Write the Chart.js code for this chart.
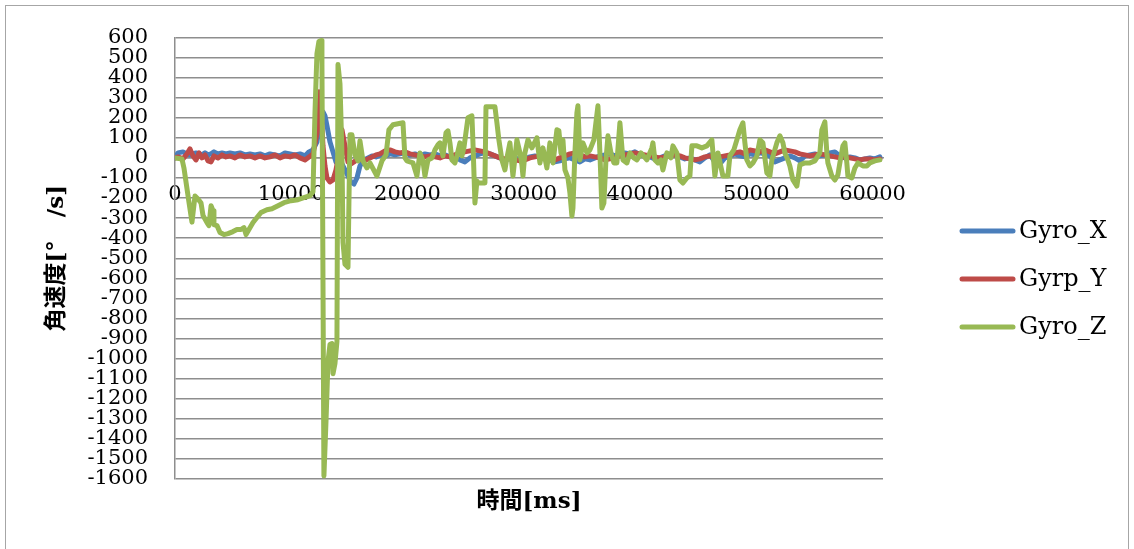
<!DOCTYPE html>
<html>
<head>
<meta charset="utf-8">
<script src="https://cdn.jsdelivr.net/npm/chart.js@4.4.1/dist/chart.umd.min.js"></script>
<style>
  html, body { margin: 0; padding: 0; background: #fff; overflow: hidden; }
  #wrap { position: relative; width: 1134px; height: 549px; }
  #frame { position: absolute; left: 5px; top: 5px; width: 1124px; height: 600px;
           border: 1.5px solid #a6a6a6; box-sizing: border-box; }
  canvas { position: absolute; left: 0; top: 0; }
</style>
</head>
<body>
<div id="wrap">
  <div id="frame"></div>
  <canvas id="c" width="1134" height="549"></canvas>
</div>
<script>
// Sample times [ms] shared by the X and Y gyro channels
const timeXY = [0,258,688,1032,1290,1548,1806,2064,2322,2580,2838,3096,3354,3698,4042,4386,4730,5160,5590,6020,
  6450,6880,7310,7740,8170,8600,9030,9460,9890,10320,10750,11180,11524,11868,12212,12384,12556,12728,12900,13072,
  13330,13588,13846,14104,14362,14620,14878,15136,15394,15652,15910,16254,16598,16942,17286,17630,18060,18490,18920,19350,
  19780,20210,20640,21070,21500,21930,22360,22790,23220,23650,24080,24510,24940,25370,25800,26230,26660,27090,27520,27950,
  28380,28810,29240,29670,30100,30530,30960,31390,31820,32250,32680,33110,33540,33970,34400,34830,35260,35690,36120,36550,
  36980,37410,37840,38270,38700,39130,39560,39990,40420,40850,41280,41710,42140,42570,43000,43430,43860,44290,44720,45150,
  45580,46010,46440,46870,47300,47730,48160,48590,49020,49450,49880,50310,50740,51170,51600,52030,52460,52890,53320,53750,
  54180,54610,55040,55470,55900,56330,56760,57190,57620,58050,58480,58910,59340,59770,60200,60630];

// Angular velocity, X axis [deg/s]
const gyroX = [0,25,30,20,15,20,25,20,15,25,15,20,30,20,25,20,25,20,25,15,
  20,15,20,10,20,15,10,25,20,15,20,10,30,40,80,150,200,230,210,160,
  80,30,-20,0,-30,-60,-90,-120,-130,-100,-40,-10,0,10,5,15,10,20,15,20,
  25,15,20,10,20,15,20,10,15,5,10,-10,-20,0,10,20,25,20,10,0,
  -10,-5,0,-10,-5,5,10,5,15,-10,-20,-15,-5,0,-10,-20,-5,-10,0,10,
  15,20,10,15,25,20,30,15,10,5,-5,0,10,20,15,5,-5,0,-10,-20,
  0,15,-20,-30,0,10,20,10,5,20,15,25,20,10,-20,-10,0,10,0,-15,
  10,15,20,10,15,25,30,10,0,5,0,-10,-5,0,-5,5];

// Angular velocity, Y axis [deg/s]
const gyroY = [0,5,-5,20,45,10,-10,25,0,15,-15,-20,10,0,15,5,10,0,15,5,
  10,0,10,0,5,15,0,10,5,15,0,-10,5,20,120,330,250,60,-40,-100,
  -120,-110,-60,20,140,60,-20,-30,-20,-10,-5,-15,-5,5,15,20,35,40,30,25,
  30,20,15,10,5,10,5,0,10,5,15,25,30,35,40,35,30,20,10,0,
  -5,0,-10,-15,-10,0,5,10,0,-5,-10,0,10,20,25,15,5,10,5,0,
  -10,-5,0,10,15,20,25,20,15,10,5,0,5,10,15,10,0,-5,-10,-5,
  5,10,0,5,10,15,25,30,20,40,35,30,40,30,20,30,40,35,30,20,
  15,10,15,20,15,10,5,0,5,0,-5,-10,-5,-5,-10,-5];

// Sample times [ms] of the Z gyro channel
const timeZ = [0,600,770,1200,1460,1720,1980,2240,2410,2750,2920,3100,3270,3350,3610,3870,4210,4560,4990,5330,
  5680,5930,6110,6360,6710,7050,7400,7910,8340,8860,9370,9980,10580,11090,11610,11870,12040,12210,12380,12560,
  12640,12810,12990,13160,13330,13500,13590,13760,13930,14020,14190,14360,14450,14620,14880,14960,15050,15220,15480,15740,
  15910,16170,16510,16770,17370,17800,18150,18400,18750,19610,19780,19950,20470,20810,21070,21330,21500,21760,22100,22360,
  22620,22790,23050,23310,23480,23650,23820,24080,24250,24510,24680,24850,25200,25540,25630,25800,25970,26060,26660,26750,
  27520,27690,27860,28120,28380,28550,28810,29070,29410,29670,29840,29930,30100,30360,30700,31130,31390,31650,31990,32250,
  32510,32850,33020,33200,33370,33540,33800,33970,34140,34230,34400,34570,34660,34830,35090,35430,35690,36030,36380,36550,
  36720,36890,37070,37240,37500,37750,38010,38270,38530,38870,39130,39470,39730,40080,40590,41020,41110,41280,41540,41800,
  41970,42310,42660,42830,43170,43430,43690,44030,44290,44460,44890,45320,45750,46180,46440,46700,47130,47560,47730,48070,
  48330,48590,48850,49020,49190,49450,49710,50050,50310,50570,50740,50910,51170,51340,51770,52030,52290,52460,52720,52890,
  53150,53490,53660,53750,54180,54610,55040,55470,55640,55900,56070,56160,56500,56760,57020,57190,57450,57620,57790,57880,
  58220,58480,58740,59170,59510,59770,60200,60630];

// Angular velocity, Z axis [deg/s]
const gyroZ = [0,-5,-50,-220,-320,-190,-205,-225,-287,-322,-337,-238,-263,-332,-337,-372,-382,-377,-367,-357,
  -357,-347,-382,-357,-322,-297,-272,-258,-253,-238,-223,-213,-208,-198,-188,-168,225,520,580,585,
  470,-1585,-1310,-1015,-930,-925,-1075,-1025,-915,465,370,25,-420,-530,-545,-225,115,115,15,-15,
  85,-15,-50,-25,-90,-15,15,140,165,175,0,-15,-25,-90,25,-15,-90,-10,0,40,
  65,75,10,125,135,75,-10,-25,10,75,10,50,200,210,75,-225,-115,-125,-125,255,
  255,175,90,-10,-60,0,75,-90,90,25,-35,-90,25,90,50,100,-25,50,-50,75,
  -25,140,135,25,90,-60,-100,-175,-290,-250,25,225,260,-10,75,25,40,90,260,25,
  -250,-225,-10,110,25,-25,-25,175,-10,-25,25,0,-10,25,-10,50,75,-10,-25,-10,
  -60,25,0,60,25,-110,-125,-100,-90,60,60,50,60,90,-90,25,-90,-90,10,40,
  90,140,175,75,-10,-40,-25,10,90,75,0,-75,-90,-10,75,110,75,25,-10,-40,
  -110,-140,-75,-35,-25,-25,-15,25,140,180,25,-25,-90,-110,-85,-25,60,75,-25,-90,
  -100,-50,-25,-40,-40,-25,-15,-10];

const seriesNames = ['Gyro_X', 'Gyrp_Y', 'Gyro_Z'];
const seriesColors = ['#4a7ebb', '#be4b48', '#98b954'];
const xTickValues = [0, 10000, 20000, 30000, 40000, 50000, 60000];
const yMin = -1600, yMax = 600, yStep = 100;
const xMax = 60900;
const xTitle = '時間[ms]';
const yTitle = '角速度[°　/s]';

const FONT = '"DejaVu Serif", "Noto Sans CJK JP", serif';
const GRID = '#8e8e8e';

function toPoints(ts, vs) { return ts.map((t, i) => ({ x: t, y: vs[i] })); }

const seriesData = [toPoints(timeXY, gyroX), toPoints(timeXY, gyroY), toPoints(timeZ, gyroZ)];

// Axis titles and the legend on the right
const decor = {
  id: 'decor',
  afterDraw(chart) {
    const ctx = chart.ctx;
    const a = chart.chartArea;
    ctx.save();
    ctx.fillStyle = '#000';
    ctx.textBaseline = 'middle';
    ctx.textAlign = 'center';

    ctx.font = 'bold 23px ' + FONT;
    ctx.save();
    ctx.translate(57, (a.top + a.bottom) / 2);
    ctx.rotate(-Math.PI / 2);
    ctx.fillText(yTitle, 0, 0);
    ctx.restore();

    ctx.fillText(xTitle, (a.left + a.right) / 2, 502);

    ctx.textAlign = 'left';
    ctx.font = '24px ' + FONT;
    ctx.lineCap = 'round';
    ctx.lineWidth = 5;
    chart.data.datasets.forEach((ds, i) => {
      const y = 231 + i * 48;
      ctx.strokeStyle = ds.borderColor;
      ctx.beginPath();
      ctx.moveTo(962, y);
      ctx.lineTo(1013, y);
      ctx.stroke();
      ctx.fillText(ds.label, 1019, y + 1);
    });
    ctx.restore();
  }
};

new Chart(document.getElementById('c'), {
  type: 'line',
  data: {
    datasets: seriesNames.map((name, i) => ({
      label: name,
      data: seriesData[i],
      borderColor: seriesColors[i],
      backgroundColor: seriesColors[i],
      borderWidth: 5,
      borderJoinStyle: 'round',
      borderCapStyle: 'round',
      pointRadius: 0,
      tension: 0,
      order: 3 - i
    }))
  },
  options: {
    responsive: false,
    animation: false,
    devicePixelRatio: 1,
    layout: { padding: { left: 0, top: 35, right: 251, bottom: 70 } },
    plugins: { legend: { display: false }, tooltip: { enabled: false } },
    scales: {
      x: {
        type: 'linear',
        position: { y: 0 },
        min: 0,
        max: xMax,
        afterBuildTicks: s => { s.ticks = xTickValues.map(v => ({ value: v })); },
        grid: { display: false, drawTicks: false },
        border: { display: true, color: GRID, width: 1.5 },
        ticks: {
          padding: 24, color: '#000', autoSkip: false, maxRotation: 0,
          font: { family: FONT, size: 21 },
          callback: v => String(v)
        }
      },
      y: {
        type: 'linear',
        min: yMin,
        max: yMax,
        afterFit: s => { s.width = 175; },
        grid: { color: GRID, lineWidth: 1.5, drawTicks: false },
        border: { display: true, color: GRID, width: 1.5 },
        ticks: {
          stepSize: yStep, padding: 27, color: '#000', autoSkip: false,
          font: { family: FONT, size: 21, lineHeight: 1 },
          callback: v => String(v)
        }
      }
    }
  },
  plugins: [decor]
});
</script>
</body>
</html>
